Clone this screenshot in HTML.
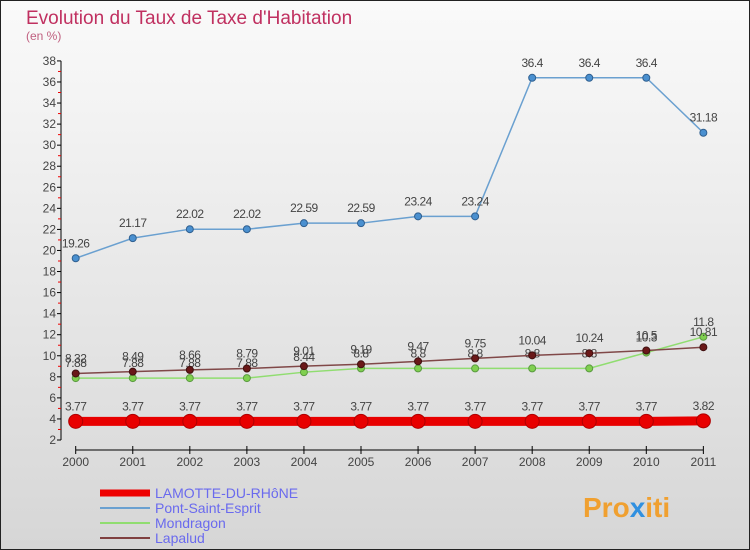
<!DOCTYPE html>
<html><head><meta charset="utf-8"><style>
body{margin:0;}
svg{display:block;font-family:"Liberation Sans",sans-serif;}
</style></head><body>
<svg id="c" width="750" height="550">
<defs><linearGradient id="bg" x1="0" y1="0" x2="0" y2="1"><stop offset="0" stop-color="#fafafa"/><stop offset="1" stop-color="#d6d6d6"/></linearGradient></defs>
<rect x="0.5" y="0.5" width="749" height="549" fill="url(#bg)" stroke="#222"/>
<text x="26" y="24" font-size="19" fill="#c03060">Evolution du Taux de Taxe d'Habitation</text>
<text x="26" y="40" font-size="12" fill="#c06080">(en %)</text>
<g id="axes"></g><g id="series"></g>
<g>
<line x1="100" y1="493" x2="150" y2="493" stroke="#e00" stroke-width="7"/>
<text x="155" y="498" font-size="14" fill="#6a6aee">LAMOTTE-DU-RHôNE</text>
<line x1="100" y1="508" x2="150" y2="508" stroke="#6aa0d0" stroke-width="2"/>
<text x="155" y="513" font-size="14" fill="#6a6aee">Pont-Saint-Esprit</text>
<line x1="100" y1="523" x2="150" y2="523" stroke="#90dd70" stroke-width="2"/>
<text x="155" y="528" font-size="14" fill="#6a6aee">Mondragon</text>
<line x1="100" y1="538" x2="150" y2="538" stroke="#804040" stroke-width="2"/>
<text x="155" y="543" font-size="14" fill="#6a6aee">Lapalud</text>
</g>
<text x="583" y="517" font-size="28" font-weight="bold" fill="#f0a030">Pro<tspan fill="#3090e0">x</tspan>iti</text>
</svg>
<script>
const years=[2000,2001,2002,2003,2004,2005,2006,2007,2008,2009,2010,2011];
const lamotte=[3.77,3.77,3.77,3.77,3.77,3.77,3.77,3.77,3.77,3.77,3.77,3.82];
const pont=[19.26,21.17,22.02,22.02,22.59,22.59,23.24,23.24,36.4,36.4,36.4,31.18];
const mondragon=[7.88,7.88,7.88,7.88,8.44,8.8,8.8,8.8,8.8,8.8,10.3,11.8];
const lapalud=[8.32,8.49,8.66,8.79,9.01,9.19,9.47,9.75,10.04,10.24,10.5,10.81];
const yTicks=[2,4,6,8,10,12,14,16,18,20,22,24,26,28,30,32,34,36,38];
const NS="http://www.w3.org/2000/svg";
const x=i=>75.7+i*57.06;
const y=v=>440-(v-2)*10.53;
function mk(tag,a,p){const e=document.createElementNS(NS,tag);for(const k in a)e.setAttribute(k,a[k]);p.appendChild(e);return e;}
const ax=document.getElementById('axes');
const ya=mk('line',{x1:61,y1:y(38),x2:61,y2:y(2),stroke:'#000'},ax);


yTicks.forEach(v=>{
 const t=mk('line',{x1:57,y1:y(v),x2:61,y2:y(v),stroke:'#000'},ax);
 
 
 const m=mk('line',{x1:58,y1:y(v+1),x2:61,y2:y(v+1),stroke:'#e00'},ax);
 if(v===38)m.setAttribute('visibility','hidden');
 
 
 const l=mk('text',{x:56,y:y(v)+4,'font-size':12,fill:'#444','text-anchor':'end'},ax);
 l.textContent=v;
 
 
});
const xa=mk('line',{x1:x(0),y1:450,x2:x(11),y2:450,stroke:'#000'},ax);


years.forEach((yr,i)=>{
 const t=mk('line',{x1:x(i),y1:446,x2:x(i),y2:454,stroke:'#000'},ax);
 
 
 const l=mk('text',{x:x(i),y:466,'font-size':12,fill:'#444','text-anchor':'middle'},ax);
 l.textContent=yr;
 
 
});
const sg=document.getElementById('series');
function series(name,vals,color,w,r,dot,dotStroke){
 const g=mk('g',{},sg);
 
 
 const p=mk('polyline',{points:vals.map((v,i)=>x(i)+','+y(v)).join(' '),fill:'none',stroke:color,'stroke-width':w},g);
 
 
 vals.forEach((v,i)=>{
  const c=mk('circle',{cx:x(i),cy:y(v),r:r,fill:dot,stroke:dotStroke,'stroke-width':1},g);
  
  
  const l=mk('text',{x:x(i),y:y(v)-11,'font-size':12,fill:'#444','text-anchor':'middle','letter-spacing':'-0.5'},g);
  l.textContent=String(v);
  
  
 });
}
series('mondragon',mondragon,'#90dd70',1.5,3.5,'#80d050','#5a9a40');
series('lapalud',lapalud,'#804848',1.5,3.5,'#6a1818','#401010');
series('pont',pont,'#6aa0d0',1.5,3.5,'#4a90d0','#306090');
series('lamotte',lamotte,'#e80000',9,7,'#e80000','#b00000');
</script>
</body></html>
